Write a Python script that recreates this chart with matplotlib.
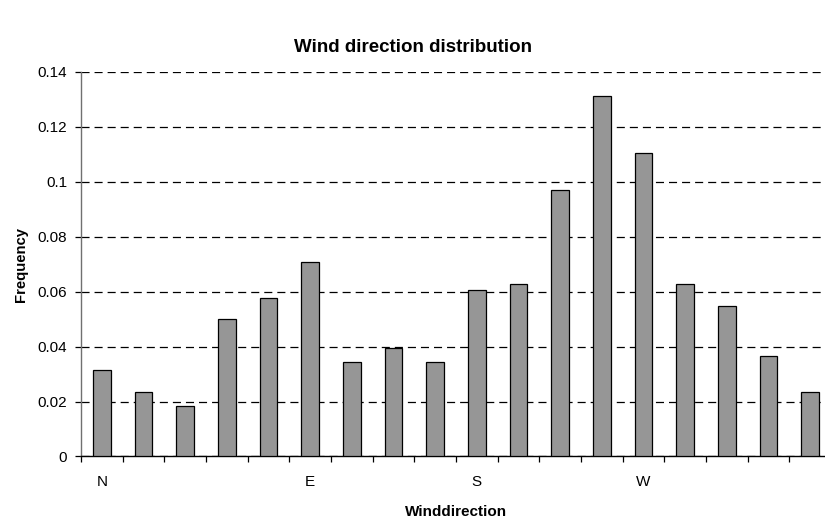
import matplotlib
matplotlib.use("Agg")
import matplotlib.pyplot as plt
import numpy as np

plt.rcParams['font.family'] = ['Liberation Sans', 'DejaVu Sans']
plt.rcParams['lines.scale_dashes'] = False

# Relative frequency for each of the 18 direction sectors, clockwise from north
frequency = [0.0314, 0.0235, 0.0182, 0.0499, 0.0577, 0.0707,
             0.0342, 0.0393, 0.0342, 0.0604, 0.0628, 0.0971,
             0.1311, 0.1105, 0.0629, 0.0549, 0.0367, 0.0235]
compass_labels = ['N', 'E', 'S', 'W']
compass_sectors = [0, 5, 9, 13]
y_ticks = [0, 0.02, 0.04, 0.06, 0.08, 0.1, 0.12, 0.14]
y_tick_labels = ['0', '0.02', '0.04', '0.06', '0.08', '0.1', '0.12', '0.14']

fig = plt.figure(figsize=(8.25, 5.22), dpi=100)
ax = fig.add_axes([0.0982, 0.1255, 0.909, 0.7371])

x = np.arange(len(frequency))
ax.bar(x, frequency, width=0.42, color='#969696', edgecolor='black',
       linewidth=0.9, zorder=3)

ax.set_xlim(-0.5, len(frequency) - 0.5)
ax.set_ylim(0, 0.14)

# Horizontal dashed grid
ax.set_yticks(y_ticks)
ax.set_yticklabels(y_tick_labels, fontsize=11)
ax.yaxis.grid(True, color='black', linewidth=0.9, linestyle=(0, (5.8, 3.6)), zorder=1)
ax.set_axisbelow(True)

# Sector boundaries as ticks, compass names at sector centres
ax.set_xticks(np.arange(len(frequency) + 1) - 0.5)
ax.set_xticklabels([])
ax.set_xticks(compass_sectors, minor=True)
ax.set_xticklabels(compass_labels, minor=True, fontsize=11)
ax.tick_params(axis='x', which='minor', length=0, pad=13)
ax.tick_params(axis='x', which='major', length=4.5, width=0.9, color='black', direction='out')
ax.tick_params(axis='y', length=4, width=0.9, color='black', direction='out', pad=6)

for side in ('top', 'right'):
    ax.spines[side].set_visible(False)
ax.spines['bottom'].set_color('black')
ax.spines['bottom'].set_linewidth(1.0)
ax.spines['left'].set_color('#707070')
ax.spines['left'].set_linewidth(1.0)

ax.set_xlabel('Winddirection', fontsize=11, fontweight='bold', labelpad=12)
ax.set_ylabel('Frequency', fontsize=10.7, fontweight='bold', labelpad=7)
fig.text(0.5, 1 - 47 / 522, 'Wind direction distribution', ha='center', va='center',
         fontsize=13.5, fontweight='bold')

fig.savefig('out.png', dpi=100)
